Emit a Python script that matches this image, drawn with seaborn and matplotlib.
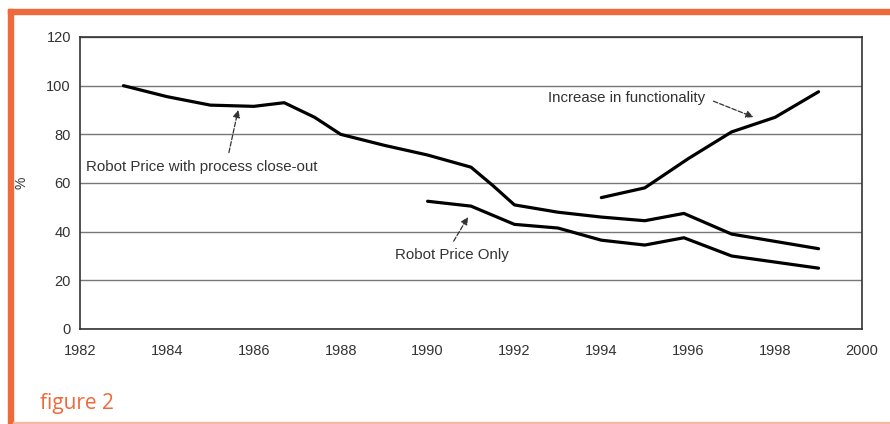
import pandas as pd
import numpy as np
import matplotlib.pyplot as plt
import seaborn as sns
from matplotlib.patches import Rectangle

# values (years, % of 1983 level)
close_out_years = [1983, 1984, 1985, 1986, 1986.7, 1987.4, 1988, 1989, 1990, 1991, 1991.5,
                   1992, 1993, 1994, 1995, 1995.9, 1997, 1998, 1999]
close_out_pct = [100, 95.5, 92, 91.5, 93, 87, 80, 75.5, 71.5, 66.5, 59,
                 51, 48, 46, 44.5, 47.5, 39, 36, 33]

price_only_years = [1990, 1991, 1992, 1993, 1994, 1995, 1995.9, 1997, 1998, 1999]
price_only_pct = [52.5, 50.5, 43, 41.5, 36.5, 34.5, 37.5, 30, 27.5, 25]

func_years = [1994, 1995, 1996, 1997, 1998, 1999]
func_pct = [54, 58, 70, 81, 87, 97.5]

x_ticks = [1982, 1984, 1986, 1988, 1990, 1992, 1994, 1996, 1998, 2000]
y_ticks = [0, 20, 40, 60, 80, 100, 120]

sns.set_style("white")
plt.rcParams['font.family'] = ['Liberation Sans', 'DejaVu Sans']

fig = plt.figure(figsize=(8.9, 4.24), dpi=100)
ax = fig.add_axes([80/890, 1-329/424, (862-80)/890, (329-37)/424])

df1 = pd.DataFrame({"year": close_out_years, "pct": close_out_pct})
df2 = pd.DataFrame({"year": price_only_years, "pct": price_only_pct})
df3 = pd.DataFrame({"year": func_years, "pct": func_pct})

for d in [df1, df2, df3]:
    sns.lineplot(data=d, x="year", y="pct", ax=ax, color="black", lw=2.3,
                 solid_joinstyle="round", solid_capstyle="round")

ax.set_xlim(1982, 2000)
ax.set_ylim(0, 120)
ax.set_xticks(x_ticks)
ax.set_yticks(y_ticks)
ax.tick_params(axis="both", labelsize=10.5, colors="#333333", length=3, direction="out")
ax.tick_params(axis="x", pad=8)
ax.yaxis.grid(True, color="#777777", lw=1)
ax.set_axisbelow(True)
for s in ax.spines.values():
    s.set_color("#333333")
    s.set_linewidth(1.2)
ax.set_xlabel("")
ax.set_ylabel("")
fig.text(22/890, 1-183/424, "%", rotation=90, fontsize=10, color="#333333",
         ha="center", va="center")

# annotations
arrow = dict(arrowstyle="-|>", color="#333333", ls="--", lw=0.9, shrinkB=0)
ax.annotate("Robot Price with process close-out", xy=(1985.64, 90), xytext=(1982.14, 66.6),
            fontsize=10.8, color="#333333", va="center",
            arrowprops=dict(arrow, shrinkA=3, relpos=(0.61, 1.0)))
ax.annotate("Robot Price Only", xy=(1990.93, 46), xytext=(1989.25, 30.4),
            fontsize=10.8, color="#333333", va="center",
            arrowprops=dict(arrow, shrinkA=3, relpos=(0.48, 1.0)))
ax.annotate("Increase in functionality", xy=(1997.5, 87.1), xytext=(1992.77, 95),
            fontsize=10.8, color="#333333", va="center",
            arrowprops=dict(arrow, shrinkA=4, relpos=(1.0, 0.5)))

# orange frame and caption
orange = "#EE6A3A"
fig.patches.append(Rectangle((8/890, 0), 5/890, 1-9/424, transform=fig.transFigure,
                             color=orange, zorder=5))
fig.patches.append(Rectangle((8/890, 1-14/424), 1, 5/424, transform=fig.transFigure,
                             color=orange, zorder=5))
fig.patches.append(Rectangle((13/890, 0), 1, 2/424, transform=fig.transFigure,
                             color="#F6B8A0", zorder=5))
fig.text(40/890, 1-404/424, "figure 2", color=orange, fontsize=15,
         family=["Open Sans", "DejaVu Sans"], va="center", ha="left")

plt.savefig("out.png", dpi=100)
